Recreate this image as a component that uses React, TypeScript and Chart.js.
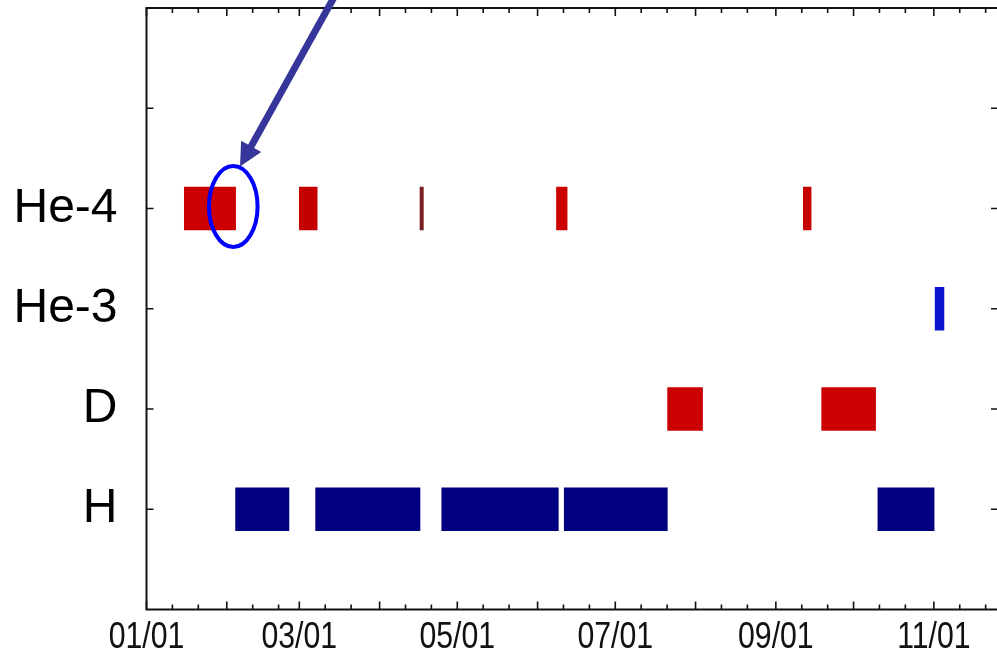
import React, { useEffect, useRef } from "react";
import { Chart, registerables } from "chart.js";

Chart.register(...registerables);

// ---- Axis structure ----
const CATEGORY_LABELS = ["", "H", "D", "He-3", "He-4", ""]; // index = y value
const Y_TICKS = [1, 2, 3, 4, 5];
const Y_MIN = 0;
const Y_MAX = 6;

// days counted from 01/01 (non-leap year)
const X_TICK_DAYS = [0, 59, 120, 181, 243, 304];
const X_TICK_LABELS = ["01/01", "03/01", "05/01", "07/01", "09/01", "11/01"];
const MONTH_START_DAYS = [0, 31, 59, 90, 120, 151, 181, 212, 243, 273, 304];
const X_MIN = 0;
const X_MAX = 328;

// ---- Data: observation spans [startDay, endDay] ----
const HE4_SPANS = [
  [14.6, 34.4],
  [59.0, 65.9],
  [105.6, 106.9],
  [158.3, 162.4],
  [253.6, 256.6],
];
const HE3_SPANS = [[304.5, 307.9]];
const D_SPANS = [
  [201.2, 214.7],
  [260.7, 281.5],
];
const H_SPANS = [
  [34.4, 55.0],
  [65.3, 105.6],
  [114.0, 159.0],
  [161.3, 201.1],
  [282.4, 304.1],
];

// ---- Annotation (in data units) ----
const HIGHLIGHT = { day: 33.5, value: 4.02 };
const ARROW_FROM = { day: 74.4, value: 6.2 };
const ARROW_TO = { day: 36.1, value: 4.42 };

const X_LABEL_FONT = '36px "Liberation Sans", Arial, sans-serif';
const X_LABEL_SQUEEZE = 0.84;

const framePlugin = {
  id: "frame",
  afterDatasetsDraw(chart: any) {
    const { ctx, chartArea: a, scales } = chart;
    const x = scales.x;
    const y = scales.y;
    ctx.save();
    ctx.strokeStyle = "#111";
    ctx.lineWidth = 1.6;
    const drawX = (d: number, len: number) => {
      if (d < X_MIN || d > X_MAX) return;
      const px = x.getPixelForValue(d);
      ctx.beginPath();
      ctx.moveTo(px, a.bottom);
      ctx.lineTo(px, a.bottom - len);
      ctx.moveTo(px, a.top);
      ctx.lineTo(px, a.top + len);
      ctx.stroke();
    };
    for (const m of MONTH_START_DAYS) {
      drawX(m, 8);
      drawX(m + 10, 5);
      drawX(m + 20, 5);
    }
    for (const v of Y_TICKS) {
      const py = y.getPixelForValue(v);
      ctx.beginPath();
      ctx.moveTo(a.left, py);
      ctx.lineTo(a.left + 7, py);
      ctx.moveTo(a.right + 1, py);
      ctx.lineTo(a.right - 5, py);
      ctx.stroke();
    }
    // frame: top, left, bottom (right edge falls at the picture border)
    ctx.lineWidth = 2;
    ctx.beginPath();
    ctx.moveTo(a.right + 1, a.top);
    ctx.lineTo(a.left, a.top);
    ctx.lineTo(a.left, a.bottom);
    ctx.lineTo(a.right + 1, a.bottom);
    ctx.stroke();

    // x tick labels (condensed text)
    ctx.fillStyle = "#111";
    ctx.font = X_LABEL_FONT;
    ctx.textAlign = "center";
    ctx.textBaseline = "alphabetic";
    X_TICK_DAYS.forEach((d, i) => {
      const px = x.getPixelForValue(d);
      ctx.save();
      ctx.translate(px, a.bottom + 38);
      ctx.scale(X_LABEL_SQUEEZE, 1);
      ctx.fillText(X_TICK_LABELS[i], 0, 0);
      ctx.restore();
    });
    ctx.restore();
  },
};

const annotationPlugin = {
  id: "annot",
  afterDraw(chart: any) {
    const { ctx, scales } = chart;
    const x = scales.x;
    const y = scales.y;
    ctx.save();
    // ellipse
    const cx = x.getPixelForValue(HIGHLIGHT.day);
    const cy = y.getPixelForValue(HIGHLIGHT.value);
    ctx.strokeStyle = "#0000ff";
    ctx.lineWidth = 4;
    ctx.beginPath();
    ctx.ellipse(cx, cy, 24.3, 40.5, 0, 0, Math.PI * 2);
    ctx.stroke();
    // arrow
    const x0 = x.getPixelForValue(ARROW_FROM.day);
    const y0 = y.getPixelForValue(ARROW_FROM.value);
    const x1 = x.getPixelForValue(ARROW_TO.day);
    const y1 = y.getPixelForValue(ARROW_TO.value);
    const dx = x1 - x0;
    const dy = y1 - y0;
    const L = Math.hypot(dx, dy);
    const ux = dx / L;
    const uy = dy / L;
    const headLen = 23;
    const headHalf = 11.5;
    const bx = x1 - ux * headLen;
    const by = y1 - uy * headLen;
    ctx.strokeStyle = "#35359a";
    ctx.fillStyle = "#35359a";
    ctx.lineWidth = 7;
    ctx.beginPath();
    ctx.moveTo(x0, y0);
    ctx.lineTo(bx + ux * 3, by + uy * 3);
    ctx.stroke();
    ctx.beginPath();
    ctx.moveTo(x1, y1);
    ctx.lineTo(bx - uy * headHalf, by + ux * headHalf);
    ctx.lineTo(bx + uy * headHalf, by - ux * headHalf);
    ctx.closePath();
    ctx.fill();
    ctx.restore();
  },
};

const toPoints = (spans: number[][], v: number) =>
  spans.map((s) => ({ x: [s[0], s[1]], y: v }));

export default function App() {
  const ref = useRef<HTMLCanvasElement | null>(null);

  useEffect(() => {
    if (!ref.current) return;
    const chart = new Chart(ref.current, {
      type: "bar",
      data: {
        datasets: [
          {
            label: "He-4",
            data: toPoints(HE4_SPANS, 4) as any,
            backgroundColor: ["#cc0000", "#c40000", "#7a2020", "#cc0000", "#c40000"],
          },
          {
            label: "He-3",
            data: toPoints(HE3_SPANS, 3) as any,
            backgroundColor: "#0a14cc",
          },
          {
            label: "D",
            data: toPoints(D_SPANS, 2) as any,
            backgroundColor: "#cc0000",
          },
          {
            label: "H",
            data: toPoints(H_SPANS, 1) as any,
            backgroundColor: "#000080",
          },
        ],
      },
      options: {
        indexAxis: "y",
        animation: false,
        responsive: false,
        layout: { autoPadding: false, padding: { top: 8, right: 1, left: 0, bottom: 0 } } as any,
        plugins: {
          legend: { display: false },
          tooltip: { enabled: false },
        },
        datasets: {
          bar: { grouped: false, barThickness: 43, borderWidth: 0 } as any,
        },
        scales: {
          x: {
            type: "linear",
            min: X_MIN,
            max: X_MAX,
            offset: false,
            grid: { display: false, drawTicks: false },
            border: { display: false },
            afterBuildTicks: (s: any) => {
              s.ticks = X_TICK_DAYS.map((v) => ({ value: v }));
            },
            afterFit: (s: any) => {
              s.height = 39.5;
              s.paddingLeft = 0;
              s.paddingRight = 0;
            },
            ticks: { display: false },
          },
          y: {
            type: "linear",
            min: Y_MIN,
            max: Y_MAX,
            offset: false,
            grid: { display: false, drawTicks: false, offset: false },
            border: { display: false },
            afterBuildTicks: (s: any) => {
              s.ticks = Y_TICKS.map((v) => ({ value: v }));
            },
            afterFit: (s: any) => {
              s.width = 146.5;
              s.paddingTop = 0;
              s.paddingBottom = 0;
            },
            ticks: {
              autoSkip: false,
              padding: 29,
              color: "#000",
              font: { family: '"Liberation Sans", Arial, sans-serif', size: 48 },
              callback: (v: any) => CATEGORY_LABELS[Number(v)] ?? "",
            },
          },
        },
      },
      plugins: [framePlugin, annotationPlugin],
    });
    return () => chart.destroy();
  }, []);

  return (
    <div style={{ position: "absolute", left: 0, top: 0, width: 997, height: 649, background: "#fff" }}>
      <canvas ref={ref} width={997} height={649} style={{ width: 997, height: 649, display: "block" }} />
    </div>
  );
}
